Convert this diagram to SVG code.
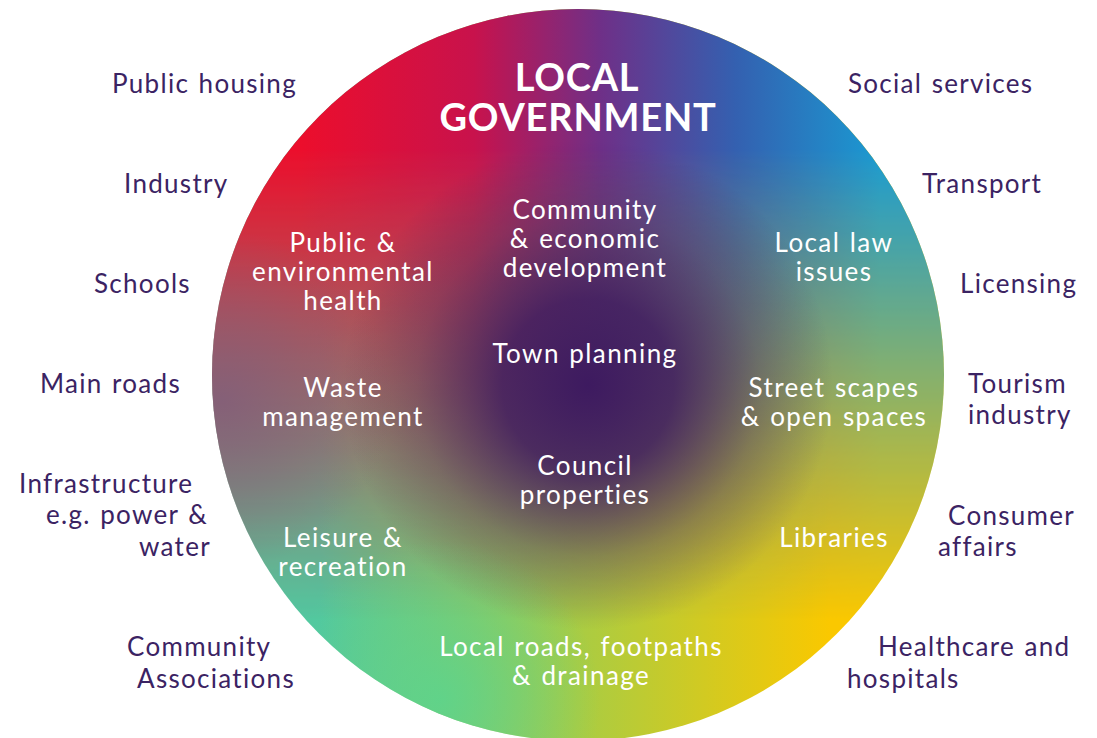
<svg xmlns="http://www.w3.org/2000/svg" width="1097" height="738" viewBox="0 0 1097 738">
<style>
.out{font-family:Lato,"Liberation Sans",sans-serif;font-size:26px;fill:#3b2363;letter-spacing:1.3px;word-spacing:1.5px}
.in{font-family:Lato,"Liberation Sans",sans-serif;font-size:26px;fill:#ffffff;text-anchor:middle;letter-spacing:1.4px;word-spacing:1.5px}
.title{font-family:Lato,"Liberation Sans",sans-serif;font-size:38px;font-weight:bold;fill:#ffffff;text-anchor:middle;letter-spacing:0.8px}
</style>
<defs>
<clipPath id="disc"><circle cx="578" cy="375" r="366"/></clipPath>
<linearGradient id="topRow" gradientUnits="userSpaceOnUse" x1="300" y1="0" x2="880" y2="0">
<stop offset="0" stop-color="#ec0e2c"/>
<stop offset="0.3" stop-color="#c8124c"/>
<stop offset="0.52" stop-color="#6e3088"/>
<stop offset="0.75" stop-color="#3460b0"/>
<stop offset="1" stop-color="#1a9ad2"/>
</linearGradient>
<linearGradient id="botRow" gradientUnits="userSpaceOnUse" x1="320" y1="0" x2="830" y2="0">
<stop offset="0" stop-color="#52c8a0"/>
<stop offset="0.5" stop-color="#a8cc44"/>
<stop offset="1" stop-color="#fac800"/>
</linearGradient>
<linearGradient id="fadeV" gradientUnits="userSpaceOnUse" x1="0" y1="150" x2="0" y2="620">
<stop offset="0" stop-color="#ffffff"/>
<stop offset="1" stop-color="#000000"/>
</linearGradient>
<mask id="topMask" maskUnits="userSpaceOnUse" x="0" y="0" width="1097" height="760">
<rect x="0" y="0" width="1097" height="760" fill="url(#fadeV)"/>
</mask>
<radialGradient id="mauve" cx="222" cy="400" r="170" gradientUnits="userSpaceOnUse">
<stop offset="0" stop-color="#7e5a7c" stop-opacity="0.75"/>
<stop offset="0.5" stop-color="#7e5a7c" stop-opacity="0.4"/>
<stop offset="1" stop-color="#7e5a7c" stop-opacity="0"/>
</radialGradient>
<radialGradient id="greenPt" cx="440" cy="700" r="160" gradientUnits="userSpaceOnUse">
<stop offset="0" stop-color="#5ad58e" stop-opacity="0.8"/>
<stop offset="1" stop-color="#5ad58e" stop-opacity="0"/>
</radialGradient>
<radialGradient id="core" cx="588" cy="385" r="245" gradientUnits="userSpaceOnUse">
<stop offset="0" stop-color="#3a1660" stop-opacity="0.96"/>
<stop offset="0.35" stop-color="#3a1660" stop-opacity="0.82"/>
<stop offset="0.7" stop-color="#3a1660" stop-opacity="0.3"/>
<stop offset="1" stop-color="#3a1660" stop-opacity="0"/>
</radialGradient>
</defs>
<rect width="1097" height="738" fill="#ffffff"/>
<g id="disc-bg" clip-path="url(#disc)">
<rect x="200" y="0" width="760" height="760" fill="url(#botRow)"/>
<rect x="200" y="0" width="760" height="760" fill="url(#topRow)" mask="url(#topMask)"/>
<circle cx="222" cy="400" r="170" fill="url(#mauve)"/>
<circle cx="440" cy="700" r="160" fill="url(#greenPt)"/>
<circle cx="588" cy="385" r="245" fill="url(#core)"/>
</g>
<g id="title">
<text class="title" x="577" y="91">LOCAL</text>
<text class="title" x="578" y="131">GOVERNMENT</text>
</g>
<g id="inner-nodes">
<g id="n-community"><text class="in" x="585" y="219">Community</text><text class="in" x="585" y="248">&amp; economic</text><text class="in" x="585" y="277">development</text></g>
<g id="n-public-health"><text class="in" x="343" y="252">Public &amp;</text><text class="in" x="343" y="281">environmental</text><text class="in" x="343" y="310">health</text></g>
<g id="n-local-law"><text class="in" x="834" y="252">Local law</text><text class="in" x="834" y="281">issues</text></g>
<g id="n-town"><text class="in" x="585" y="363">Town planning</text></g>
<g id="n-waste"><text class="in" x="343" y="397">Waste</text><text class="in" x="343" y="426">management</text></g>
<g id="n-street"><text class="in" x="834" y="397">Street scapes</text><text class="in" x="834" y="426">&amp; open spaces</text></g>
<g id="n-council"><text class="in" x="585" y="475">Council</text><text class="in" x="585" y="504">properties</text></g>
<g id="n-leisure"><text class="in" x="343" y="547">Leisure &amp;</text><text class="in" x="343" y="576">recreation</text></g>
<g id="n-libraries"><text class="in" x="834" y="547">Libraries</text></g>
<g id="n-roads"><text class="in" x="581" y="656">Local roads, footpaths</text><text class="in" x="581" y="685">&amp; drainage</text></g>
</g>
<g id="outer-nodes">
<g id="o-housing"><text class="out" x="112" y="93">Public housing</text></g>
<g id="o-industry"><text class="out" x="124" y="193">Industry</text></g>
<g id="o-schools"><text class="out" x="94" y="293">Schools</text></g>
<g id="o-mainroads"><text class="out" x="40" y="393">Main roads</text></g>
<g id="o-infra"><text class="out" x="19" y="493">Infrastructure</text><text class="out" x="46" y="524">e.g. power &amp;</text><text class="out" x="139" y="556">water</text></g>
<g id="o-assoc"><text class="out" x="127" y="656">Community</text><text class="out" x="137" y="688">Associations</text></g>
<g id="o-social"><text class="out" x="848" y="93">Social services</text></g>
<g id="o-transport"><text class="out" x="922" y="193">Transport</text></g>
<g id="o-licensing"><text class="out" x="960" y="293">Licensing</text></g>
<g id="o-tourism"><text class="out" x="968" y="393">Tourism</text><text class="out" x="968" y="424">industry</text></g>
<g id="o-consumer"><text class="out" x="948" y="525">Consumer</text><text class="out" x="938" y="556">affairs</text></g>
<g id="o-health"><text class="out" x="878" y="656">Healthcare and</text><text class="out" x="847" y="688">hospitals</text></g>
</g>
</svg>
